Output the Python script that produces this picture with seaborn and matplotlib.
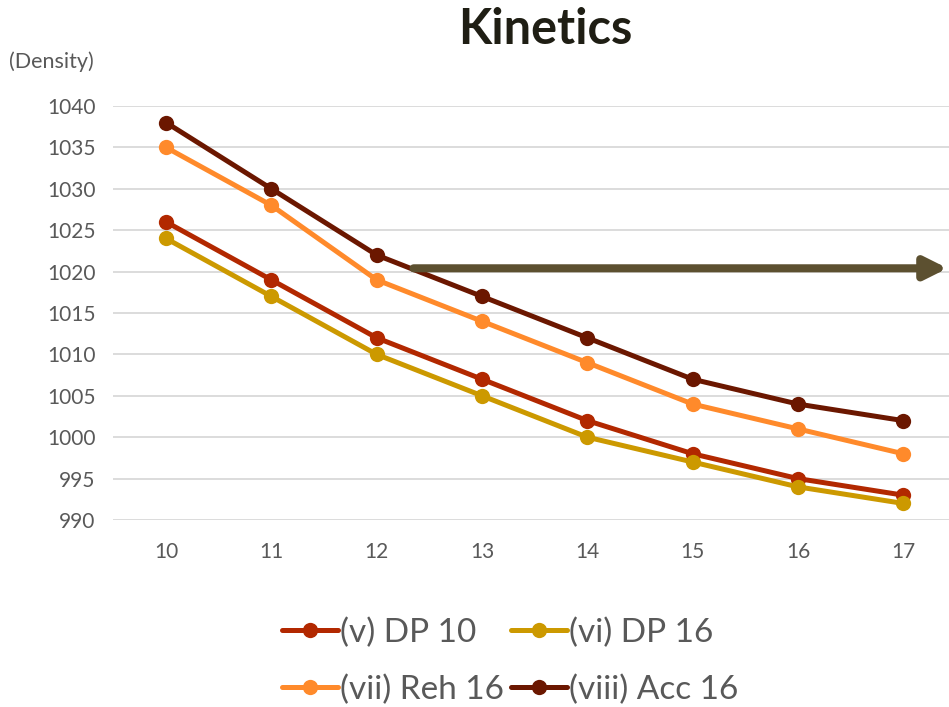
import matplotlib
matplotlib.use("Agg")
import matplotlib.pyplot as plt
import seaborn as sns
import pandas as pd
from matplotlib.lines import Line2D

x_vals = [10, 11, 12, 13, 14, 15, 16, 17]
dp10 = [1026, 1019, 1012, 1007, 1002, 998, 995, 993]
dp16 = [1024, 1017, 1010, 1005, 1000, 997, 994, 992]
reh16 = [1035, 1028, 1019, 1014, 1009, 1004, 1001, 998]
acc16 = [1038, 1030, 1022, 1017, 1012, 1007, 1004, 1002]
series_names = ["(v) DP 10", "(vi) DP 16", "(vii) Reh 16", "(viii) Acc 16"]
colors = ["#B22800", "#CC9900", "#FF8A2B", "#6B1700"]
y_ticks = [990, 995, 1000, 1005, 1010, 1015, 1020, 1025, 1030, 1035, 1040]

rows = []
for name, vals in zip(series_names, [dp10, dp16, reh16, acc16]):
    for i, (xv, yv) in enumerate(zip(x_vals, vals)):
        rows.append({"pos": i, "x": xv, "Density": yv, "series": name})
df = pd.DataFrame(rows)

sns.set_theme(style="white")
plt.rcParams["font.family"] = ["Lato", "DejaVu Sans"]

fig = plt.figure(figsize=(9.49, 7.07), dpi=100)
ax = fig.add_axes([113.4 / 949, 1 - 520 / 707, (956 - 113.4) / 949, 414 / 707])

sns.lineplot(data=df, x="pos", y="Density", hue="series", palette=colors,
             marker="o", markersize=11, markeredgewidth=0, linewidth=3.6,
             ax=ax, legend=False, zorder=3)

ax.set_xlim(-0.5, len(x_vals) - 0.5)
ax.set_ylim(990, 1040)
ax.set_yticks(y_ticks)
ax.set_yticklabels([str(t) for t in y_ticks])
ax.set_xticks(range(len(x_vals)))
ax.set_xticklabels([str(v) for v in x_vals])
ax.grid(axis="y", color="#D9D9D9", linewidth=1.3)
ax.set_axisbelow(True)
for s in ax.spines.values():
    s.set_visible(False)
ax.tick_params(axis="both", length=0, labelsize=15, colors="#595959")
ax.tick_params(axis="x", pad=15.5)
ax.tick_params(axis="y", pad=13)
ax.set_xlabel("")
ax.set_ylabel("")

# arrow annotation
ax.annotate("", xy=(7.42, 1020.4), xytext=(2.35, 1020.4),
            arrowprops=dict(arrowstyle="-|>,head_length=1.1,head_width=0.55",
                            color="#5C5030", linewidth=5.8, shrinkA=0, shrinkB=0),
            annotation_clip=False, zorder=4)

fig.text(545 / 949, 1 - 30 / 707, "Kinetics", ha="center", va="center",
         fontsize=35, fontweight="bold", color="#1F1E14")
fig.text(9 / 949, 1 - 62 / 707, "(Density)", ha="left", va="center",
         fontsize=15.5, color="#595959")

handles = [Line2D([0], [0], color=c, linewidth=3.6, marker="o", markersize=11,
                  markeredgewidth=0) for c in colors]
order = [0, 2, 1, 3]
leg = fig.legend([handles[i] for i in order], [series_names[i] for i in order],
                 loc="center", ncol=2,
                 bbox_to_anchor=(510 / 949, 1 - 661 / 707), frameon=False,
                 fontsize=24, handlelength=1.7, handletextpad=0.05,
                 columnspacing=0.2, labelspacing=0.8, labelcolor="#595959")

fig.savefig("out.png", dpi=100)
